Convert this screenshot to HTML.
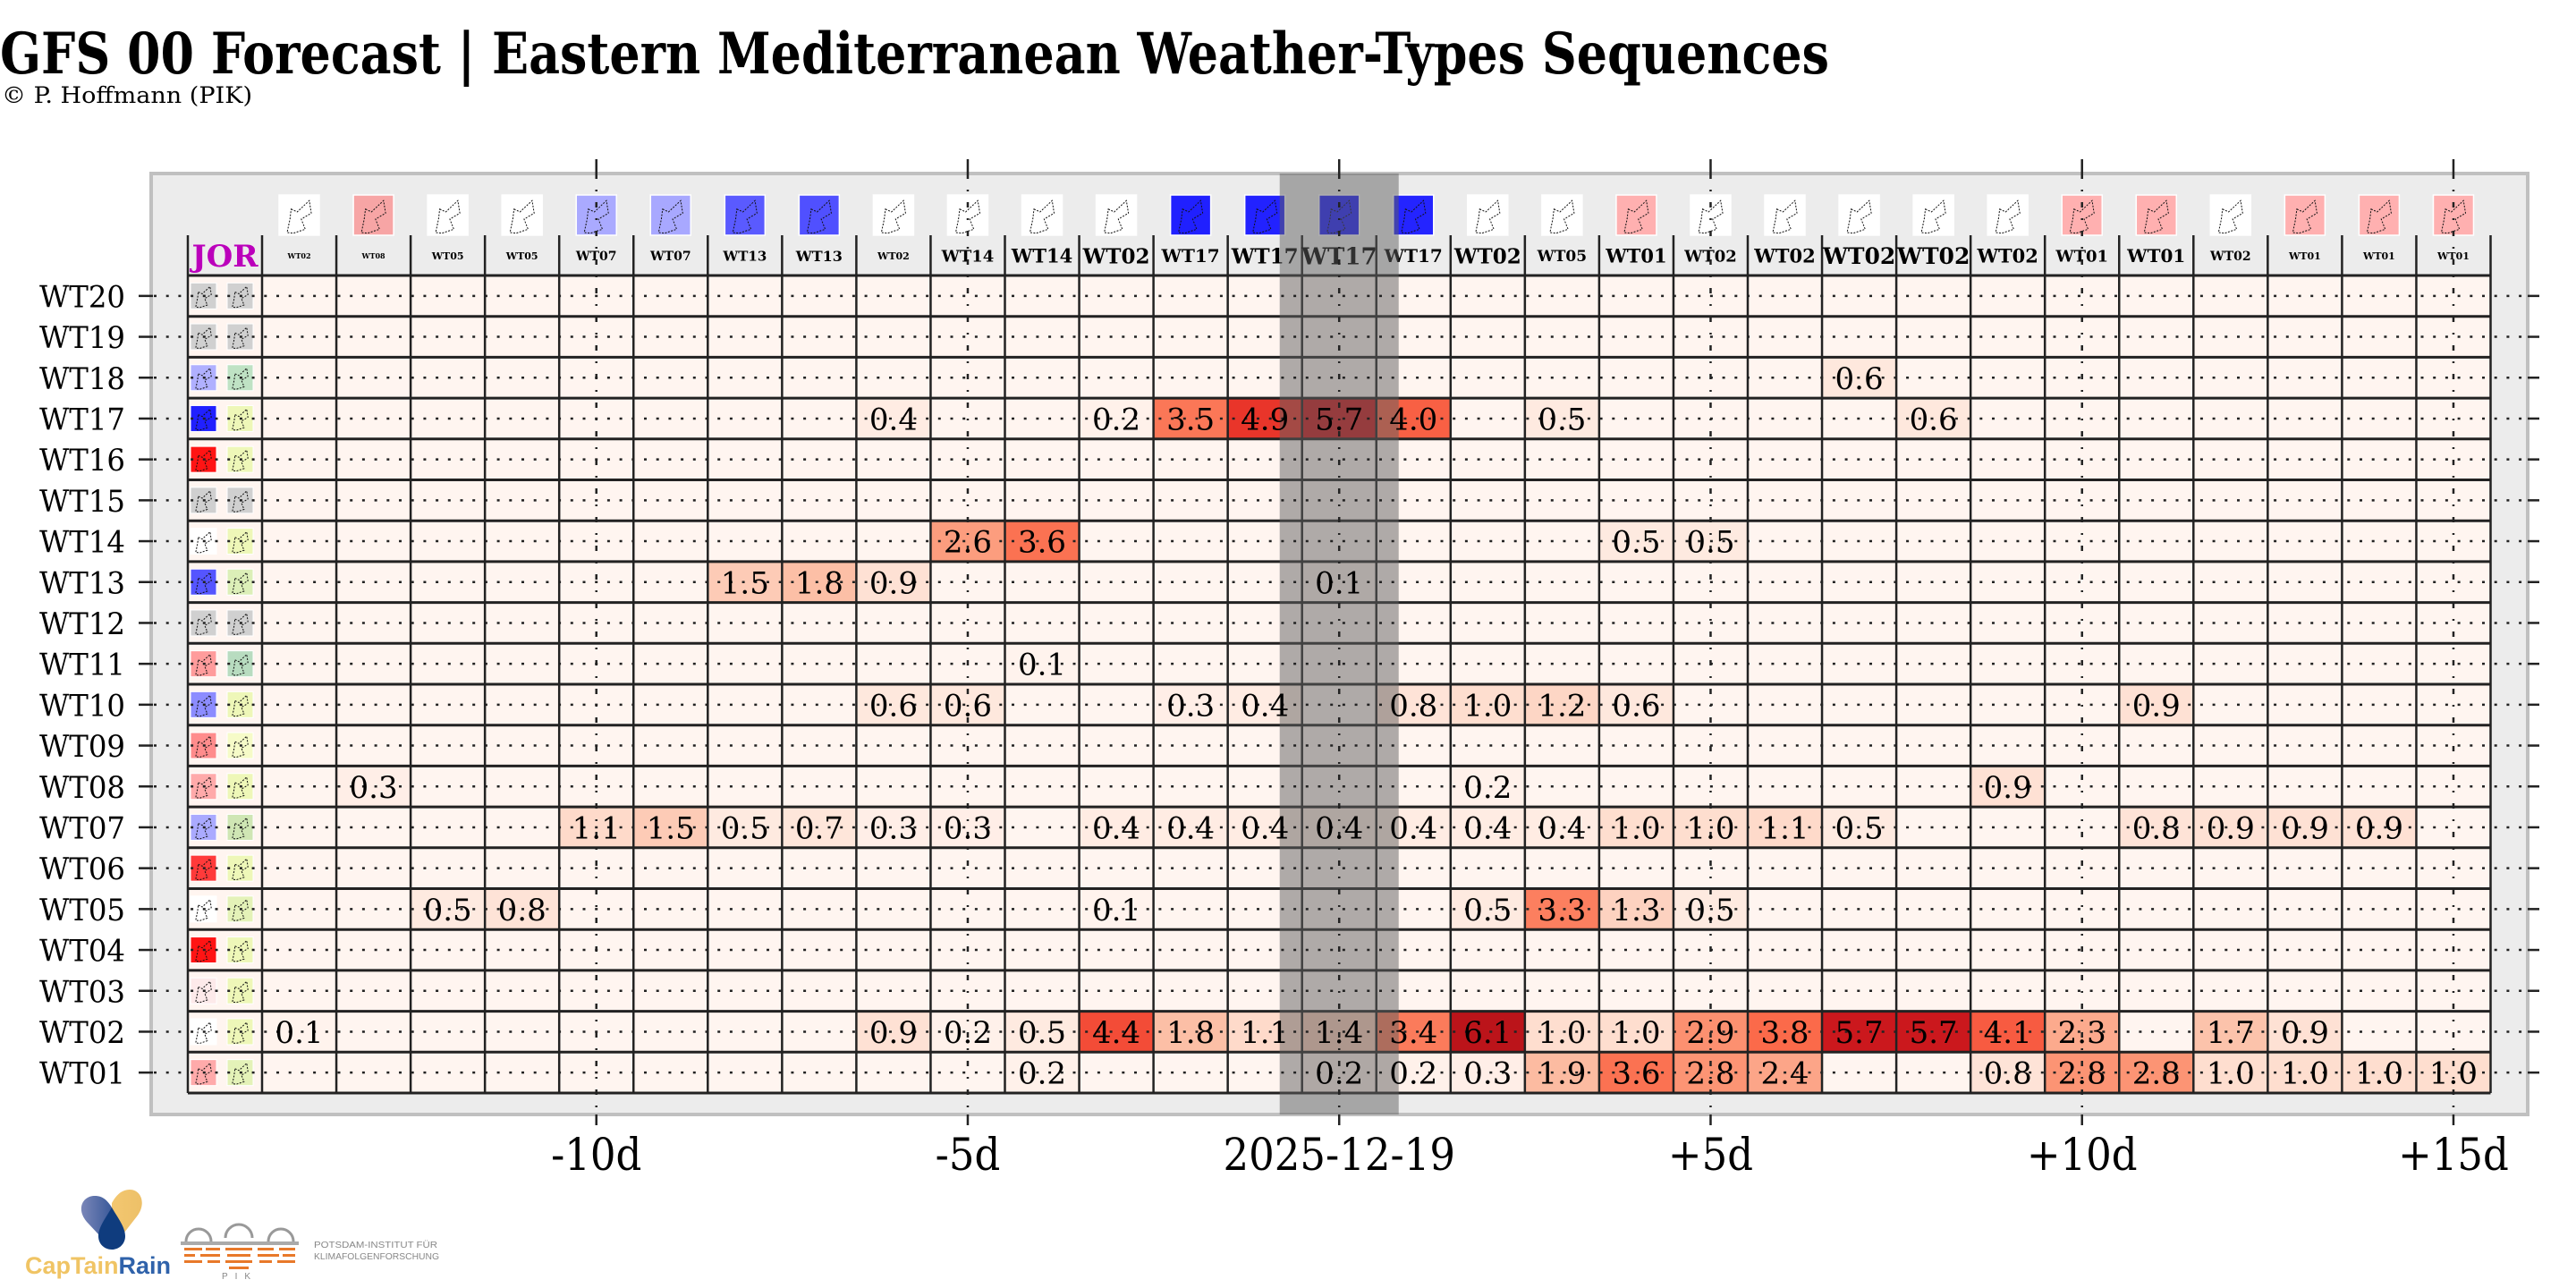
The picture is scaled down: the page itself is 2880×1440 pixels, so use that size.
<!DOCTYPE html>
<html><head><meta charset="utf-8">
<style>
html,body{margin:0;padding:0;background:#fff;}
svg{display:block;}
text{font-family:"DejaVu Serif","Liberation Serif",serif;}
</style></head>
<body>
<svg id="chart" xmlns="http://www.w3.org/2000/svg" width="2880" height="1440" viewBox="0 0 2880 1440">
  <rect x="0" y="0" width="2880" height="1440" fill="#ffffff"/>
  <text x="0" y="82" font-size="64" font-weight="bold" textLength="2045" lengthAdjust="spacingAndGlyphs">GFS 00 Forecast | Eastern Mediterranean Weather-Types Sequences</text>
  <text x="2" y="115" font-size="25" textLength="280" lengthAdjust="spacingAndGlyphs">© P. Hoffmann (PIK)</text>
  <rect x="169" y="194" width="2657" height="1052" fill="#ececec" stroke="#c0c0c0" stroke-width="4"/>
  <g id="cells"></g>
  <g id="gridlines"></g>
  <g id="header"></g>
  <g id="icons"></g>
  <rect id="band" x="1431" y="194" width="133" height="1052" fill="rgba(96,96,96,0.5)"/>
  <g id="dots"></g>
  <g id="values"></g>
  <g id="axes"></g>

  <g>
    <defs>
      <linearGradient id="gl" x1="0" y1="0" x2="1" y2="0"><stop offset="0" stop-color="#7a86b8"/><stop offset="1" stop-color="#3a5a9a"/></linearGradient>
      <linearGradient id="gr" x1="0" y1="0" x2="1" y2="0"><stop offset="0" stop-color="#f3c770"/><stop offset="1" stop-color="#edc068"/></linearGradient>
    </defs>
    <path d="M125 1396 L97 1366 C85 1352 92 1337 106 1337 C115 1337 120 1342 125 1350 Z" fill="url(#gl)"/>
    <path d="M125 1396 L153 1360 C164 1346 158 1330 145 1330 C136 1330 130 1336 125 1345 Z" fill="url(#gr)"/>
    <path d="M125 1350 C118 1362 110 1372 110 1382 C110 1391 117 1397 125 1397 C133 1397 140 1391 140 1382 C140 1372 132 1362 125 1350 Z" fill="#0f3c7e"/>
    <text x="28" y="1424" font-size="27" font-weight="bold" style="font-family:'Liberation Sans',sans-serif"><tspan fill="#f0c464">CapTain</tspan><tspan fill="#2f62aa">Rain</tspan></text>
  </g>
  <g>
    <path d="M208 1388 a14 14 0 0 1 28 0 M252 1384 a15 15 0 0 1 30 0 M300 1388 a14 14 0 0 1 28 0" fill="none" stroke="#999" stroke-width="3"/>
    <rect x="202" y="1388" width="132" height="4" fill="#aaa"/>
    <g fill="#e8792a">
      <rect x="206" y="1395" width="20" height="3"/><rect x="230" y="1395" width="16" height="3"/><rect x="252" y="1395" width="30" height="3"/><rect x="288" y="1395" width="18" height="3"/><rect x="312" y="1395" width="18" height="3"/>
      <rect x="206" y="1402" width="12" height="3"/><rect x="224" y="1402" width="22" height="3"/><rect x="254" y="1402" width="26" height="3"/><rect x="288" y="1402" width="24" height="3"/><rect x="316" y="1402" width="14" height="3"/>
      <rect x="206" y="1409" width="20" height="3"/><rect x="232" y="1409" width="14" height="3"/><rect x="252" y="1409" width="30" height="3"/><rect x="290" y="1409" width="14" height="3"/><rect x="310" y="1409" width="20" height="3"/>
      <rect x="256" y="1416" width="22" height="3"/>
    </g>
    <text x="268" y="1430" font-size="10" fill="#888" text-anchor="middle" style="font-family:'Liberation Sans',sans-serif" letter-spacing="8">PIK</text>
    <text x="351" y="1395" font-size="10" fill="#888" style="font-family:'Liberation Sans',sans-serif" textLength="138" lengthAdjust="spacingAndGlyphs">POTSDAM-INSTITUT FÜR</text>
    <text x="351" y="1408" font-size="10" fill="#888" style="font-family:'Liberation Sans',sans-serif" textLength="140" lengthAdjust="spacingAndGlyphs">KLIMAFOLGENFORSCHUNG</text>
  </g>
</svg>
<script>
// ---- data ----
const rowLabels = ['WT01','WT02','WT03','WT04','WT05','WT06','WT07','WT08','WT09','WT10','WT11','WT12','WT13','WT14','WT15','WT16','WT17','WT18','WT19','WT20'];
const colLabels = ['WT02','WT08','WT05','WT05','WT07','WT07','WT13','WT13','WT02','WT14','WT14','WT02','WT17','WT17','WT17','WT17','WT02','WT05','WT01','WT02','WT02','WT02','WT02','WT02','WT01','WT01','WT02','WT01','WT01','WT01'];
const colLabelSizes = [8,8,11,11,14,14,15,16,11,18,21,23,20,23,26,20,23,17,21,18,21,25,25,21,18,20,14,11,11,11];
const colThumbColors = ['#ffffff','#f7a5a5','#ffffff','#ffffff','#aaaaff','#a8a8ff','#5a5aff','#5050ff','#ffffff','#ffffff','#ffffff','#ffffff','#2020ff','#2222ff','#1e1eff','#2424ff','#ffffff','#ffffff','#ffb0b0','#ffffff','#ffffff','#ffffff','#ffffff','#ffffff','#ffb0b0','#ffb0b0','#ffffff','#ffb0b0','#ffb0b0','#ffb0b0'];
const rowIconLeft = ['#ffaaaa','#ffffff','#fdeaea','#ff1414','#ffffff','#ff3a3a','#aaaaff','#ffaaaa','#ff8c8c','#8c8cff','#ff9c9c','#d0d0d0','#5555ff','#ffffff','#d0d0d0','#ff1414','#2020ff','#b0b0ff','#d0d0d0','#d0d0d0'];
const rowIconRight = ['#e4f2b8','#eef7b8','#eef7b8','#eef7b8','#e4f2b8','#eef7b8','#cfe6b4','#eef7b8','#f6fbc8','#eef7b8','#b8dcc0','#d0d0d0','#dcefb8','#eef7b8','#d0d0d0','#eef7b8','#eef7b8','#bfe2c4','#d0d0d0','#d0d0d0'];
const wt01 = [0,0,0,0,0,0,0,0,0,0,0.2,0,0,0,0.2,0.2,0.3,1.9,3.6,2.8,2.4,0,0,0.8,2.8,2.8,1.0,1.0,1.0,1.0];
const wt02 = [0.1,0,0,0,0,0,0,0,0.9,0.2,0.5,4.4,1.8,1.1,1.4,3.4,6.1,1.0,1.0,2.9,3.8,5.7,5.7,4.1,2.3,0,1.7,0.9,0,0];
const wt03 = [0,0,0,0,0,0,0,0,0,0,0,0,0,0,0,0,0,0,0,0,0,0,0,0,0,0,0,0,0,0];
const wt04 = [0,0,0,0,0,0,0,0,0,0,0,0,0,0,0,0,0,0,0,0,0,0,0,0,0,0,0,0,0,0];
const wt05 = [0,0,0.5,0.8,0,0,0,0,0,0,0,0.1,0,0,0,0,0.5,3.3,1.3,0.5,0,0,0,0,0,0,0,0,0,0];
const wt06 = [0,0,0,0,0,0,0,0,0,0,0,0,0,0,0,0,0,0,0,0,0,0,0,0,0,0,0,0,0,0];
const wt07 = [0,0,0,0,1.1,1.5,0.5,0.7,0.3,0.3,0,0.4,0.4,0.4,0.4,0.4,0.4,0.4,1.0,1.0,1.1,0.5,0,0,0,0.8,0.9,0.9,0.9,0];
const wt08 = [0,0.3,0,0,0,0,0,0,0,0,0,0,0,0,0,0,0.2,0,0,0,0,0,0,0.9,0,0,0,0,0,0];
const wt09 = [0,0,0,0,0,0,0,0,0,0,0,0,0,0,0,0,0,0,0,0,0,0,0,0,0,0,0,0,0,0];
const wt10 = [0,0,0,0,0,0,0,0,0.6,0.6,0,0,0.3,0.4,0,0.8,1.0,1.2,0.6,0,0,0,0,0,0,0.9,0,0,0,0];
const wt11 = [0,0,0,0,0,0,0,0,0,0,0.1,0,0,0,0,0,0,0,0,0,0,0,0,0,0,0,0,0,0,0];
const wt12 = [0,0,0,0,0,0,0,0,0,0,0,0,0,0,0,0,0,0,0,0,0,0,0,0,0,0,0,0,0,0];
const wt13 = [0,0,0,0,0,0,1.5,1.8,0.9,0,0,0,0,0,0.1,0,0,0,0,0,0,0,0,0,0,0,0,0,0,0];
const wt14 = [0,0,0,0,0,0,0,0,0,2.6,3.6,0,0,0,0,0,0,0,0.5,0.5,0,0,0,0,0,0,0,0,0,0];
const wt15 = [0,0,0,0,0,0,0,0,0,0,0,0,0,0,0,0,0,0,0,0,0,0,0,0,0,0,0,0,0,0];
const wt16 = [0,0,0,0,0,0,0,0,0,0,0,0,0,0,0,0,0,0,0,0,0,0,0,0,0,0,0,0,0,0];
const wt17 = [0,0,0,0,0,0,0,0,0.4,0,0,0.2,3.5,4.9,5.7,4.0,0,0.5,0,0,0,0,0.6,0,0,0,0,0,0,0];
const wt18 = [0,0,0,0,0,0,0,0,0,0,0,0,0,0,0,0,0,0,0,0,0,0.6,0,0,0,0,0,0,0,0];
const wt19 = [0,0,0,0,0,0,0,0,0,0,0,0,0,0,0,0,0,0,0,0,0,0,0,0,0,0,0,0,0,0];
const wt20 = [0,0,0,0,0,0,0,0,0,0,0,0,0,0,0,0,0,0,0,0,0,0,0,0,0,0,0,0,0,0];
const tickLabels = ['-10d','-5d','2025-12-19','+5d','+10d','+15d'];
const tickCols = [4,9,14,19,24,29];
const todayCol = 14;

const series = [wt01,wt02,wt03,wt04,wt05,wt06,wt07,wt08,wt09,wt10,wt11,wt12,wt13,wt14,wt15,wt16,wt17,wt18,wt19,wt20];

// ---- geometry / axis functions ----
const NS = 'http://www.w3.org/2000/svg';
const GRID_X0 = 293, COL_W = 83.05, JOR_X = 210;
const GRID_Y0 = 308, ROW_H = 45.7;
const BOX_L = 169, BOX_R = 2826, BOX_T = 194, BOX_B = 1246;
const VMAX = 7.6;
function xCol(i){ return GRID_X0 + COL_W*i; }
function xColC(i){ return xCol(i) + COL_W/2; }
function yRow(k){ return GRID_Y0 + ROW_H*(rowLabels.length-1-k); }
function yRowC(k){ return yRow(k) + ROW_H/2; }
const nCols = colLabels.length, nRows = rowLabels.length;
const GRID_R = xCol(nCols), GRID_B = GRID_Y0 + ROW_H*nRows;

const redStops = ['#fff5f0','#fee0d2','#fcbba1','#fc9272','#fb6a4a','#ef3b2c','#cb181d','#a50f15','#67000d'];
function hex(c){ return [parseInt(c.substr(1,2),16),parseInt(c.substr(3,2),16),parseInt(c.substr(5,2),16)]; }
function reds(t){
  t = Math.max(0, Math.min(1, t));
  const p = t*(redStops.length-1), i = Math.min(Math.floor(p), redStops.length-2), f = p - i;
  const a = hex(redStops[i]), b = hex(redStops[i+1]);
  return 'rgb(' + a.map((v,j)=>Math.round(v+(b[j]-v)*f)).join(',') + ')';
}
function mk(tag, attrs, parent){
  const e = document.createElementNS(NS, tag);
  for (const k in attrs) e.setAttribute(k, attrs[k]);
  parent.appendChild(e);
  return e;
}
function outline(parent, x, y, w, h){
  const pts = [[0.3,0.35],[0.45,0.42],[0.75,0.14],[0.8,0.45],[0.55,0.6],[0.65,0.85],[0.35,0.95],[0.2,0.93],[0.27,0.6]];
  const e = mk('polygon', {points: pts.map(p=>(x+p[0]*w).toFixed(1)+','+(y+p[1]*h).toFixed(1)).join(' '), fill:'none', stroke:'#111', 'stroke-width':1, 'stroke-dasharray':'2,1.5'}, parent);
  
  
}

const gCells = document.getElementById('cells');
const gGrid = document.getElementById('gridlines');
const gHead = document.getElementById('header');
const gIcons = document.getElementById('icons');
const gDots = document.getElementById('dots');
const gVals = document.getElementById('values');
const gAxes = document.getElementById('axes');

// cells
for (let k=0;k<nRows;k++){
  const jc = mk('rect', {x:JOR_X, y:yRow(k), width:COL_W, height:ROW_H, fill:'#fff5f0'}, gCells);
  
  
  for (let i=0;i<nCols;i++){
    const v = series[k][i];
    const c = mk('rect', {x:xCol(i), y:yRow(k), width:COL_W+0.5, height:ROW_H, fill: reds(v/VMAX)}, gCells);
    
    
    if (v > 0){
      const t = mk('text', {x:xColC(i), y:yRowC(k)+12.5, 'text-anchor':'middle', 'font-size':34, fill:'#000'}, gVals);
      t.textContent = v.toFixed(1);
      
      
    }
  }
}

// grid lines
for (let i=-1;i<=nCols;i++){
  const x = i<0 ? JOR_X : xCol(i);
  const l = mk('line', {x1:x, x2:x, y1:263, y2:GRID_B, stroke:'#222', 'stroke-width':2.5}, gGrid);
  
  
}
for (let r=0;r<=nRows;r++){
  const y = GRID_Y0 + ROW_H*r;
  const l = mk('line', {x1:JOR_X, x2:GRID_R, y1:y, y2:y, stroke:'#222', 'stroke-width':3}, gGrid);
  
  
}

// header thumbnails and labels
const jor = mk('text', {x:JOR_X+COL_W/2, y:298, 'text-anchor':'middle', 'font-size':34, 'font-weight':'bold', fill:'#bb00bb', textLength:74, lengthAdjust:'spacingAndGlyphs'}, gHead);
jor.textContent = 'JOR';


for (let i=0;i<nCols;i++){
  const th = mk('rect', {x:xColC(i)-22.5, y:218, width:45, height:45, fill:colThumbColors[i], stroke:'#fff', 'stroke-width':1.5}, gHead);
  
  
  outline(gHead, xColC(i)-22.5, 218, 45, 45);
  const t = mk('text', {x:xColC(i), y:286 + colLabelSizes[i]*0.36, 'text-anchor':'middle', 'font-size':colLabelSizes[i], 'font-weight':'bold', fill:'#000'}, gHead);
  t.textContent = colLabels[i];
  
  
}

// row icons
for (let k=0;k<nRows;k++){
  const yc = yRowC(k);
  const a = mk('rect', {x:213, y:yc-14.5, width:29, height:29, fill:rowIconLeft[k], stroke:'#fff', 'stroke-width':1}, gIcons);
  
  
  outline(gIcons, 213, yc-14.5, 29, 29);
  const b = mk('rect', {x:254, y:yc-14.5, width:29, height:29, fill:rowIconRight[k], stroke:'#fff', 'stroke-width':1}, gIcons);
  
  
  outline(gIcons, 254, yc-14.5, 29, 29);
}

// dotted guide lines, y ticks, y labels
for (let k=0;k<nRows;k++){
  const yc = yRowC(k);
  const d = mk('line', {x1:172, x2:2826, y1:yc, y2:yc, stroke:'#222', 'stroke-width':2.5, 'stroke-dasharray':'3,10.7'}, gDots);
  
  
  const t1 = mk('line', {x1:155, x2:171, y1:yc, y2:yc, stroke:'#222', 'stroke-width':2.5}, gAxes);
  
  
  const t2 = mk('line', {x1:2826, x2:2839, y1:yc, y2:yc, stroke:'#222', 'stroke-width':2.5}, gAxes);
  
  
  const lb = mk('text', {x:140, y:yc+12.5, 'text-anchor':'end', 'font-size':34, fill:'#000', textLength:96, lengthAdjust:'spacingAndGlyphs'}, gAxes);
  lb.textContent = rowLabels[k];
  
  
}

// x ticks & vertical guides
for (let j=0;j<tickLabels.length;j++){
  const x = xColC(tickCols[j]);
  const v = mk('line', {x1:x, x2:x, y1:BOX_T, y2:BOX_B, stroke:'#222', 'stroke-width':2.5, 'stroke-dasharray':'6,12,2,12'}, gDots);
  
  
  const tt = mk('line', {x1:x, x2:x, y1:178, y2:BOX_T, stroke:'#222', 'stroke-width':2.5}, gAxes);
  
  
  const tb = mk('line', {x1:x, x2:x, y1:BOX_B, y2:1258, stroke:'#222', 'stroke-width':2.5}, gAxes);
  
  
  const lab = mk('text', {x:x, y:1308, 'text-anchor':'middle', 'font-size':50, fill:'#000'}, gAxes);
  lab.textContent = tickLabels[j];
  
  
  try { const w = lab.getComputedTextLength(); if (w > 0){ lab.setAttribute('textLength', (w*0.9).toFixed(1)); lab.setAttribute('lengthAdjust','spacingAndGlyphs'); } } catch(e){}
}

// highlight band follows today column
const band = document.getElementById('band');
band.setAttribute('x', xColC(todayCol) - 66.5);
</script>
</body></html>
